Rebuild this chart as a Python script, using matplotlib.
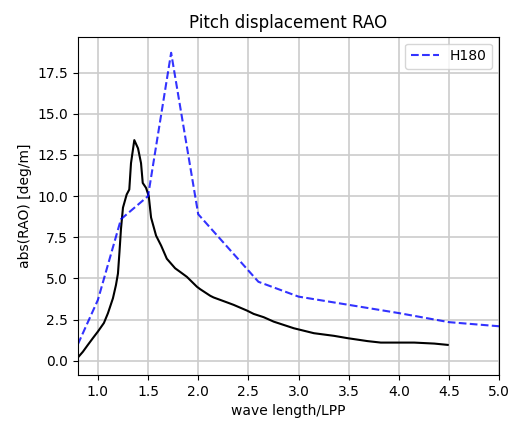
import matplotlib
matplotlib.use("Agg")
import matplotlib.pyplot as plt

# Blue dashed series (H180)
h180_x = [0.8, 1.0, 1.23, 1.5, 1.73, 2.0, 2.6, 3.0, 3.5, 4.0, 4.5, 5.0]
h180_y = [1.0, 3.7, 8.6, 10.0, 18.7, 8.9, 4.8, 3.9, 3.4, 2.9, 2.35, 2.1]

# Black solid series (reference curve)
ref_x = [0.80, 0.85, 0.90, 0.95, 1.00, 1.06, 1.10, 1.15, 1.18, 1.20, 1.215, 1.23,
         1.25, 1.287, 1.313, 1.33, 1.363, 1.40, 1.43, 1.447, 1.48, 1.507, 1.53,
         1.58, 1.63, 1.687, 1.77, 1.82, 1.887, 1.987, 2.02, 2.12, 2.153, 2.287,
         2.353, 2.487, 2.553, 2.653, 2.753, 2.953, 3.153, 3.353, 3.487, 3.687,
         3.82, 4.153, 4.353, 4.487]
ref_y = [0.2, 0.55, 0.97, 1.38, 1.78, 2.3, 2.89, 3.8, 4.6, 5.3, 6.6, 8.0,
         9.3, 10.1, 10.4, 12.0, 13.4, 12.9, 12.0, 10.8, 10.5, 10.0, 8.7,
         7.6, 7.0, 6.2, 5.62, 5.4, 5.1, 4.5, 4.35, 3.95, 3.85, 3.55,
         3.4, 3.05, 2.85, 2.65, 2.38, 1.98, 1.68, 1.52, 1.38, 1.2,
         1.11, 1.11, 1.05, 0.97]

fig = plt.figure(figsize=(5.12, 4.26), dpi=100)
ax = fig.add_axes([0.152, 0.12, 0.823, 0.794])

ax.plot(ref_x, ref_y, color="black", linewidth=1.5)
ax.plot(h180_x, h180_y, color="blue", linestyle="--", linewidth=1.5, alpha=0.8, label="H180")

ax.set_xlim(0.8, 5.0)
ax.set_ylim(-0.85, 19.68)
ax.set_xticks([1.0, 1.5, 2.0, 2.5, 3.0, 3.5, 4.0, 4.5, 5.0])
ax.set_yticks([0.0, 2.5, 5.0, 7.5, 10.0, 12.5, 15.0, 17.5])
ax.grid(True, color="#cccccc", linewidth=1.2)
ax.set_axisbelow(True)

ax.set_title("Pitch displacement RAO", fontsize=12)
ax.set_xlabel("wave length/LPP", fontsize=10)
ax.set_ylabel("abs(RAO) [deg/m]", fontsize=10)
ax.tick_params(labelsize=10)
ax.legend(loc="upper right", fontsize=10)

fig.savefig("out.png", dpi=100)
